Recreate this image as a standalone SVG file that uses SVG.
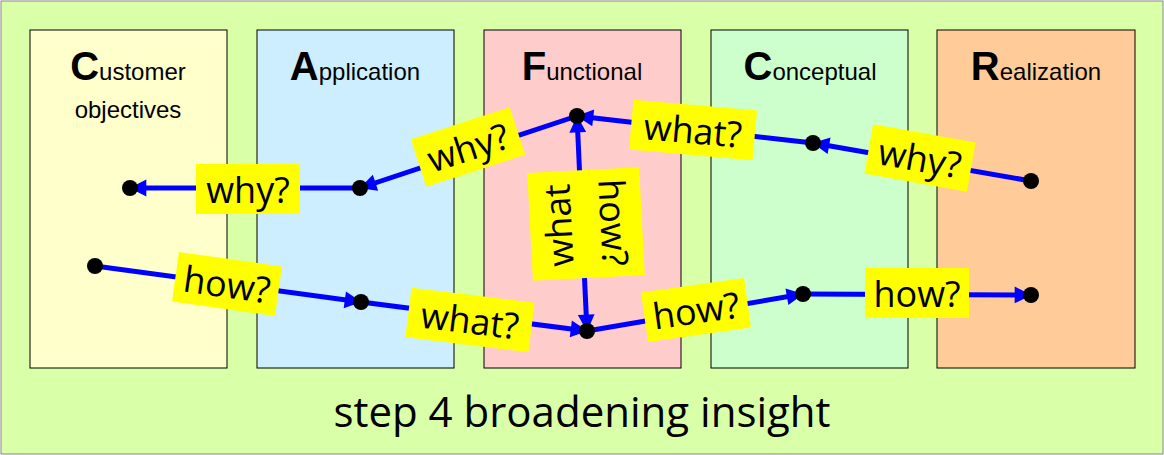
<svg xmlns="http://www.w3.org/2000/svg" width="1164" height="455" viewBox="0 0 1164 455">
<style>
.col{stroke:#000;stroke-width:1}
.h{font-family:"Liberation Sans",Arial,sans-serif;font-size:24px;text-anchor:middle}
.h tspan.b{font-weight:bold;font-size:40px}
.lb{fill:#ffff00}
.lt{font-family:"Open Sans","DejaVu Sans",sans-serif;font-size:36px;text-anchor:middle;dominant-baseline:central}
.e{stroke:#0000ff;stroke-width:5;fill:none}
.dot{fill:#000}
</style>
<defs>
<marker id="a" viewBox="0 0 10 10" refX="9" refY="5" markerWidth="6" markerHeight="6" markerUnits="userSpaceOnUse" orient="auto" overflow="visible">
<path d="M0,0 L10,5 L0,10 z" fill="#0000ff" transform="scale(2.8) translate(-6.5,-3.2)"/>
</marker>
</defs>
<rect x="1" y="1" width="1162" height="453" fill="#d9ffa8" stroke="#888" stroke-width="1"/>
<g id="col-c"><rect class="col" x="30" y="30" width="197" height="338" fill="#ffffcc"/><text class="h" x="128" y="80"><tspan class="b">C</tspan>ustomer</text><text class="h" x="128" y="118">objectives</text></g>
<g id="col-a"><rect class="col" x="257" y="30" width="197" height="338" fill="#cceeff"/><text class="h" x="355" y="80"><tspan class="b">A</tspan>pplication</text></g>
<g id="col-f"><rect class="col" x="484" y="30" width="197" height="338" fill="#ffcccc"/><text class="h" x="582" y="80"><tspan class="b">F</tspan>unctional</text></g>
<g id="col-co"><rect class="col" x="711" y="30" width="197" height="338" fill="#ccffcc"/><text class="h" x="810" y="80"><tspan class="b">C</tspan>onceptual</text></g>
<g id="col-r"><rect class="col" x="937" y="30" width="198" height="338" fill="#ffcc99"/><text class="h" x="1036" y="80"><tspan class="b">R</tspan>ealization</text></g>
<g id="connectors">
<line class="e" x1="1031" y1="181" x2="813" y2="143" marker-end="url(#a)"/>
<line class="e" x1="813" y1="143" x2="577" y2="116" marker-end="url(#a)"/>
<line class="e" x1="577" y1="116" x2="360" y2="188" marker-end="url(#a)"/>
<line class="e" x1="360" y1="188" x2="130" y2="188" marker-end="url(#a)"/>
<line class="e" x1="95" y1="266" x2="361" y2="302" marker-end="url(#a)"/>
<line class="e" x1="361" y1="302" x2="587" y2="331" marker-end="url(#a)"/>
<line class="e" x1="587" y1="331" x2="803" y2="294" marker-end="url(#a)"/>
<line class="e" x1="803" y1="294" x2="1031" y2="295" marker-end="url(#a)"/>
<line class="e" x1="582" y1="225" x2="577" y2="116" marker-end="url(#a)"/>
<line class="e" x1="582" y1="225" x2="587" y2="331" marker-end="url(#a)"/>
</g>
<g id="nodes">
<circle class="dot" cx="130" cy="188" r="8"/><circle class="dot" cx="360" cy="188" r="8"/><circle class="dot" cx="577" cy="116" r="8"/><circle class="dot" cx="813" cy="143" r="8"/><circle class="dot" cx="1031" cy="181" r="8"/>
<circle class="dot" cx="95" cy="266" r="8"/><circle class="dot" cx="361" cy="302" r="8"/><circle class="dot" cx="587" cy="331" r="8"/><circle class="dot" cx="803" cy="294" r="8"/><circle class="dot" cx="1031" cy="295" r="8"/>
</g>
<g id="labels">
<g transform="translate(248,189)"><rect class="lb" x="-52" y="-25" width="104" height="50"/><text class="lt" y="0">why?</text></g>
<g transform="translate(468,147) rotate(-18)"><rect class="lb" x="-52" y="-25" width="104" height="50"/><text class="lt">why?</text></g>
<g transform="translate(693,130) rotate(5)"><rect class="lb" x="-62" y="-25" width="124" height="50"/><text class="lt">what?</text></g>
<g transform="translate(920,158) rotate(10)"><rect class="lb" x="-52" y="-25" width="104" height="50"/><text class="lt">why?</text></g>
<g transform="translate(227,284) rotate(8)"><rect class="lb" x="-52" y="-25" width="104" height="50"/><text class="lt">how?</text></g>
<g transform="translate(470,320) rotate(7)"><rect class="lb" x="-62" y="-25" width="124" height="50"/><text class="lt">what?</text></g>
<g transform="translate(696,310) rotate(-8)"><rect class="lb" x="-52" y="-25" width="104" height="50"/><text class="lt">how?</text></g>
<g transform="translate(917,293)"><rect class="lb" x="-52" y="-25" width="104" height="50"/><text class="lt">how?</text></g>
<g transform="translate(586,224) rotate(-3)"><rect class="lb" x="-56" y="-54" width="112" height="108"/>
<text class="lt" transform="translate(-28,0) rotate(-90)">what</text>
<text class="lt" transform="translate(28,0) rotate(90)">how?</text></g>
</g>
<text x="582" y="427" font-family="'Open Sans','DejaVu Sans',sans-serif" font-size="42" text-anchor="middle">step 4 broadening insight</text>
</svg>
